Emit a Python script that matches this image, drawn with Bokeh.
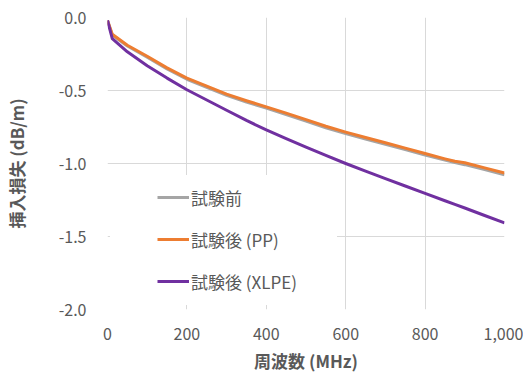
from bokeh.plotting import figure
from bokeh.models import Legend, LegendItem, FixedTicker, NumeralTickFormatter, Range1d
from bokeh.embed import file_html
from bokeh.resources import INLINE

freq = [0, 12, 50, 100, 150, 200, 250, 300, 350, 400, 450, 500, 550, 600,
        650, 700, 750, 800, 850, 875, 900, 950, 1000]
before = [-0.02, -0.12, -0.195, -0.272, -0.352, -0.423, -0.478, -0.533, -0.579, -0.621,
          -0.665, -0.71, -0.755, -0.795, -0.832, -0.868, -0.905, -0.942, -0.976, -0.994,
          -1.008, -1.042, -1.077]
after_pp = [-0.02, -0.115, -0.19, -0.265, -0.345, -0.415, -0.47, -0.525, -0.57, -0.612,
            -0.655, -0.70, -0.745, -0.785, -0.822, -0.858, -0.895, -0.932, -0.968, -0.985,
            -0.995, -1.03, -1.065]
after_xlpe = [-0.02, -0.144, -0.235, -0.33, -0.415, -0.495, -0.565, -0.635, -0.705, -0.77,
              -0.83, -0.888, -0.945, -1.0, -1.052, -1.103, -1.154, -1.205, -1.255, -1.28,
              -1.305, -1.356, -1.407]

series_names = ["試験前", "試験後 (PP)", "試験後 (XLPE)"]
series_colors = ["#A5A5A5", "#ED7D31", "#7030A0"]
x_ticks = [0, 200, 400, 600, 800, 1000]
y_ticks = [-2.0, -1.5, -1.0, -0.5, 0.0]
x_title = "周波数 (MHz)"
y_title = "挿入損失 (dB/m)"

FONT = "Noto Sans CJK JP"
TXT = "#595959"

p = figure(width=523, height=376, output_backend="svg", toolbar_location=None,
           x_range=Range1d(0, 1000), y_range=Range1d(-2.0, 0.0),
           min_border_left=107, min_border_right=19, min_border_top=17, min_border_bottom=67)
p.outline_line_color = None
p.background_fill_color = "white"
p.border_fill_color = "white"

renderers = []
for ys, c in zip([before, after_pp, after_xlpe], series_colors):
    r = p.line(freq, ys, line_color=c, line_width=3, line_join="round")
    renderers.append(r)

for ax in (p.xaxis[0], p.yaxis[0]):
    ax.axis_line_color = None
    ax.major_tick_line_color = None
    ax.minor_tick_line_color = None
    ax.major_tick_out = 0
    ax.major_tick_in = 0
    ax.minor_tick_out = 0
    ax.minor_tick_in = 0
    ax.major_label_text_font = FONT
    ax.major_label_text_font_size = "16px"
    ax.major_label_text_color = TXT
    ax.axis_label_text_font = FONT
    ax.axis_label_text_font_size = "17px"
    ax.axis_label_text_font_style = "bold"
    ax.axis_label_text_color = TXT

p.xaxis.ticker = FixedTicker(ticks=x_ticks)
p.yaxis.ticker = FixedTicker(ticks=y_ticks)
p.xaxis.formatter = NumeralTickFormatter(format="0,0")
p.yaxis.formatter = NumeralTickFormatter(format="0.0")
p.xaxis.axis_label = x_title
p.yaxis.axis_label = y_title
p.xaxis.major_label_standoff = 18
p.xaxis.axis_label_standoff = 5
p.yaxis.major_label_standoff = 21
p.yaxis.axis_label_standoff = 27

p.xgrid.grid_line_color = "#D9D9D9"
p.ygrid.grid_line_color = "#D9D9D9"
p.xgrid.grid_line_width = 1
p.ygrid.grid_line_width = 1

items = [LegendItem(label=n, renderers=[r]) for n, r in zip(series_names, renderers)]
common = dict(items=items, glyph_width=32, glyph_height=26, label_height=26,
              label_standoff=2, spacing=16, label_text_font=FONT,
              label_text_font_size="17px", label_text_color=TXT,
              background_fill_color="white", background_fill_alpha=1.0,
              border_line_color="white", border_line_alpha=1.0, margin=0)
try:
    legend = Legend(padding=(46, 39, 8, 10), location=(3, 4), **common)
except Exception:
    legend = Legend(padding=9, location=(40, 4), **common)
p.add_layout(legend, "center")

open("out.html", "w").write(file_html(p, INLINE))
